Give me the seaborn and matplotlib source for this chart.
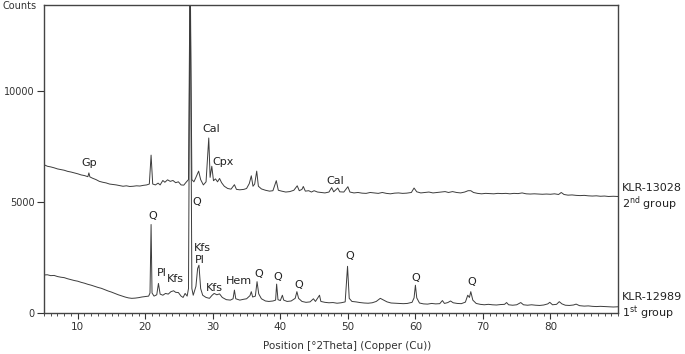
import numpy as np
import pandas as pd
import seaborn as sns
import matplotlib.pyplot as plt
import matplotlib.transforms as mtransforms
from matplotlib.ticker import MultipleLocator, FixedLocator

# KLR-12989 (1st group) - 2theta / counts
theta_12989 = [5.0, 5.5, 6.0, 6.5, 7.0, 7.5, 8.0, 8.5, 9.0, 9.5, 10.0, 10.5, 11.0, 11.5, 12.0,
               12.5, 13.0, 13.5, 14.0, 14.5, 15.0, 15.5, 16.0, 16.5, 17.0, 17.5, 18.0, 18.5, 19.0,
               19.5, 20.0, 20.5, 20.7, 20.86, 21.0, 21.3, 21.7, 21.95, 22.2, 22.6, 23.0, 23.4, 23.8,
               24.2, 24.5, 24.9, 25.3, 25.6, 25.9, 26.2, 26.4, 26.64, 26.9, 27.1, 27.5, 27.75, 27.95,
               28.2, 28.5, 29.0, 29.5, 29.9, 30.2, 30.6, 31.0, 31.4, 32.0, 32.6, 33.0, 33.2, 33.4,
               34.0, 34.6, 35.0, 35.5, 35.7, 35.9, 36.3, 36.55, 36.8, 37.2, 37.8, 38.3, 38.9, 39.3,
               39.45, 39.65, 40.0, 40.3, 40.5, 41.0, 41.6, 42.2, 42.45, 42.7, 43.2, 43.8, 44.4, 44.9,
               45.2, 45.8, 46.0, 46.6, 47.2, 47.8, 48.4, 49.0, 49.6, 49.95, 50.2, 50.6, 51.2, 51.8,
               52.4, 53.0, 53.6, 54.2, 54.8, 55.3, 55.8, 56.4, 57.0, 57.6, 58.2, 58.8, 59.5, 59.8,
               60.0, 60.2, 60.6, 61.2, 61.8, 62.4, 63.0, 63.6, 64.0, 64.3, 64.8, 65.2, 65.6, 66.2,
               66.8, 67.4, 67.75, 68.0, 68.2, 68.5, 69.0, 69.6, 70.2, 70.8, 71.4, 72.0, 72.6, 73.2,
               73.5, 73.8, 74.4, 75.0, 75.6, 76.0, 76.6, 77.2, 77.8, 78.4, 79.0, 79.6, 79.9, 80.3,
               80.9, 81.3, 81.7, 82.2, 82.8, 83.4, 83.8, 84.3, 85.0, 85.6, 86.2, 86.8, 87.4, 88.0,
               88.6, 89.3, 90.0]
counts_12989 = [1710, 1720, 1680, 1690, 1640, 1610, 1590, 1540, 1500, 1460, 1430, 1380, 1340, 1290, 1250,
                1200, 1150, 1110, 1050, 990, 940, 880, 820, 770, 720, 680, 660, 670, 690,
                720, 740, 760, 900, 3980, 900, 760, 820, 1330, 850, 800, 880, 850, 960,
                1000, 930, 920, 760, 700, 880, 760, 1100, 16000, 1100, 800, 1200, 2000, 2150,
                1100, 800, 700, 660, 800, 880, 820, 860, 700, 600, 580, 640, 1030, 640,
                580, 620, 640, 780, 960, 720, 760, 1410, 860, 640, 540, 520, 540, 580,
                1300, 600, 560, 800, 580, 520, 540, 660, 960, 660, 520, 480, 500, 640,
                520, 800, 520, 480, 460, 470, 440, 460, 500, 2100, 660, 520, 500, 470,
                450, 440, 460, 520, 660, 580, 500, 450, 440, 430, 420, 430, 480, 680,
                1250, 680, 450, 410, 400, 430, 410, 420, 560, 430, 470, 540, 460, 430,
                420, 490, 800, 700, 960, 580, 430, 390, 370, 390, 370, 360, 380, 390,
                470, 370, 350, 370, 470, 370, 350, 370, 350, 340, 360, 410, 480, 370,
                390, 510, 410, 350, 340, 360, 400, 330, 310, 320, 300, 290, 300, 290,
                280, 270, 280]

# KLR-13028 (2nd group)
theta_13028 = [5.0, 5.5, 6.0, 6.5, 7.0, 7.5, 8.0, 8.5, 9.0, 9.5, 10.0, 10.5, 11.0, 11.5, 11.65,
               11.8, 12.2, 12.7, 13.2, 13.7, 14.2, 14.7, 15.2, 15.7, 16.2, 16.7, 17.2, 17.7, 18.2,
               18.7, 19.2, 19.7, 20.2, 20.6, 20.86, 21.1, 21.5, 21.9, 22.2, 22.6, 22.9, 23.3, 23.7,
               24.1, 24.5, 24.9, 25.3, 25.7, 26.1, 26.4, 26.64, 26.9, 27.2, 27.5, 27.9, 28.2, 28.6,
               29.0, 29.4, 29.6, 29.85, 30.1, 30.4, 30.7, 31.0, 31.3, 31.7, 32.2, 32.7, 33.2, 33.5,
               34.0, 34.6, 35.0, 35.4, 35.7, 35.95, 36.2, 36.5, 36.75, 37.2, 37.8, 38.4, 38.9, 39.4,
               39.7, 40.2, 40.8, 41.4, 42.0, 42.5, 42.8, 43.2, 43.4, 43.7, 44.2, 44.6, 45.0, 45.5,
               46.0, 46.6, 47.2, 47.6, 47.9, 48.5, 48.8, 49.4, 50.0, 50.3, 50.9, 51.5, 52.1, 52.7,
               53.3, 53.9, 54.5, 55.1, 55.7, 56.3, 56.9, 57.5, 58.1, 58.7, 59.4, 59.8, 60.2, 60.8,
               61.4, 62.0, 62.6, 63.2, 63.8, 64.4, 64.9, 65.5, 66.1, 66.7, 67.3, 67.8, 68.2, 68.6,
               69.2, 69.8, 70.4, 71.0, 71.6, 72.2, 72.8, 73.4, 74.0, 74.6, 75.2, 75.8, 76.4, 77.0,
               77.6, 78.2, 78.8, 79.4, 80.0, 80.6, 81.2, 81.6, 82.0, 82.6, 83.2, 83.8, 84.4, 85.0,
               85.6, 86.2, 86.8, 87.4, 88.0, 88.6, 89.3, 90.0]
counts_13028 = [6670, 6600, 6570, 6530, 6480, 6450, 6420, 6370, 6340, 6300, 6260, 6210, 6180, 6130, 6300,
                6120, 6060, 6000, 5920, 5880, 5850, 5800, 5780, 5760, 5730, 5700, 5720, 5690, 5700,
                5720, 5710, 5740, 5760, 5800, 7100, 5800, 5760, 5840, 5760, 5960, 5880, 5990, 5920,
                5960, 5860, 5900, 5760, 5750, 5900, 6000, 16000, 6000, 5900, 6100, 6380, 6000, 5760,
                5900, 7870, 6100, 6600, 5950, 6030, 5900, 6050, 5860, 5700, 5600, 5570, 5770, 5560,
                5540, 5560, 5600, 5820, 6170, 5700, 5800, 6380, 5700, 5580, 5520, 5480, 5500, 5950,
                5520, 5480, 5440, 5460, 5520, 5720, 5500, 5560, 5690, 5480, 5500, 5440, 5500, 5440,
                5420, 5400, 5440, 5640, 5450, 5620, 5450, 5440, 5680, 5440, 5400, 5420, 5390, 5380,
                5420, 5400, 5380, 5420, 5380, 5360, 5390, 5400, 5380, 5390, 5420, 5620, 5450, 5400,
                5420, 5440, 5400, 5420, 5440, 5460, 5420, 5460, 5420, 5400, 5440, 5500, 5500, 5420,
                5380, 5360, 5380, 5370, 5360, 5380, 5370, 5380, 5360, 5380, 5370, 5400, 5360, 5350,
                5360, 5350, 5340, 5350, 5340, 5360, 5330, 5420, 5330, 5300, 5310, 5290, 5280, 5290,
                5270, 5260, 5270, 5250, 5260, 5240, 5250, 5240]

# phase labels: (text, 2theta, counts)
phase_labels = ['Gp', 'Cal', 'Cpx', 'Cal', 'Q', 'Q', 'Pl', 'Kfs', 'Kfs', 'Pl', 'Kfs', 'Hem',
                'Q', 'Q', 'Q', 'Q', 'Q', 'Q']
label_theta = [11.7, 29.8, 31.5, 48.2, 21.05, 27.55, 22.4, 24.5, 28.45, 28.05, 30.3, 33.8,
               36.8, 39.55, 42.7, 50.25, 60.1, 68.3]
label_counts = [6760, 8270, 6810, 5915, 4370, 5010, 1790, 1520, 2940, 2390, 1110, 1430,
                1755, 1635, 1260, 2580, 1560, 1380]

sample_names = ['KLR-13028', 'KLR-12989']
group_names = [r'2$^{\mathrm{nd}}$ group', r'1$^{\mathrm{st}}$ group']
sample_label_y = [5620, 700]
group_label_y = [4900, 0]

df = pd.concat([
    pd.DataFrame({'theta': theta_13028, 'counts': counts_13028, 'sample': 'KLR-13028'}),
    pd.DataFrame({'theta': theta_12989, 'counts': counts_12989, 'sample': 'KLR-12989'}),
])

sns.set_style('ticks')
plt.rcParams['font.family'] = ['DejaVu Sans']
plt.rcParams['mathtext.fontset'] = 'dejavusans'

fig = plt.figure(figsize=(6.85, 3.54), dpi=100)
ax = fig.add_axes([0.0642, 0.1158, 0.838, 0.870])

sns.lineplot(data=df, x='theta', y='counts', units='sample', estimator=None,
             color='#3c3c3c', linewidth=0.7, ax=ax, legend=False)

ax.set_xlim(5, 90)
ax.set_ylim(0, 13850)
ax.xaxis.set_major_locator(FixedLocator([10, 20, 30, 40, 50, 60, 70, 80]))
ax.xaxis.set_minor_locator(MultipleLocator(1))
ax.yaxis.set_major_locator(FixedLocator([0, 5000, 10000]))
ax.tick_params(axis='x', which='major', length=4, width=0.8, labelsize=7.5, colors='#333333', pad=2.5)
ax.tick_params(axis='x', which='minor', length=2.5, width=0.6, colors='#333333')
ax.tick_params(axis='y', length=5, width=0.8, labelsize=7, colors='#333333', pad=1.5)
for s in ax.spines.values():
    s.set_visible(True)
    s.set_color('#444444')
    s.set_linewidth(1.0)

ax.set_xlabel('Position [°2Theta] (Copper (Cu))', fontsize=7.5, color='#333333')
ax.xaxis.set_label_coords(0.528, -0.092)
ax.set_ylabel('')
fig.text(0.003, 1 - 6 / 354, 'Counts', fontsize=7, va='center', ha='left', color='#333333')

for t, xv, yv in zip(phase_labels, label_theta, label_counts):
    ax.text(xv, yv, t, fontsize=8, ha='center', va='center', color='#222222')

trans = mtransforms.blended_transform_factory(ax.transAxes, ax.transData)
for name, grp, y1, y2 in zip(sample_names, group_names, sample_label_y, group_label_y):
    ax.text(1.0075, y1, name, transform=trans, fontsize=8, va='center', ha='left',
            color='#222222', clip_on=False)
    ax.text(1.0075, y2, grp, transform=trans, fontsize=8, va='center', ha='left',
            color='#222222', clip_on=False)

fig.savefig('out.png', dpi=100)
